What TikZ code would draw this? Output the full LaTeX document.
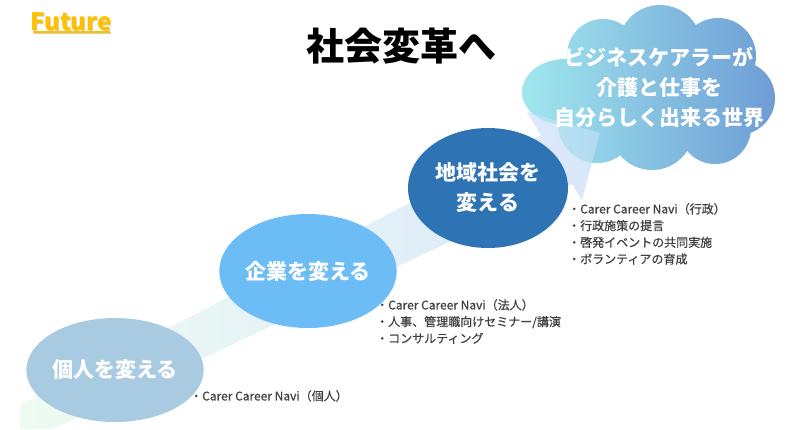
\documentclass[tikz,border=0pt]{standalone}
\usepackage{fontspec}
\setmainfont{Noto Sans CJK JP}
\newfontfamily\notefont{Noto Sans CJK JP}[FakeBold=0.7]
\usetikzlibrary{shapes.geometric}
\definecolor{bandmint}{RGB}{238,251,241}
\definecolor{bandblue}{RGB}{218,232,251}
\definecolor{cloudcyan}{RGB}{160,231,238}
\definecolor{cloudblue}{RGB}{110,157,213}
\definecolor{stageone}{RGB}{169,203,226}
\definecolor{stagetwo}{RGB}{108,189,245}
\definecolor{stagethree}{RGB}{46,116,181}
\definecolor{futureyel}{RGB}{255,192,0}
\definecolor{futureshd}{RGB}{214,208,170}
\definecolor{notegray}{RGB}{64,64,64}
\tikzset{
  stage/.style={ellipse, inner sep=0pt, minimum width=160pt, text=white, align=center,
    font=\bfseries\fontsize{21}{30}\selectfont},
  note/.style={anchor=north west, inner sep=0pt, align=left, text=notegray,
    font=\notefont\fontsize{12}{16.7}\selectfont}
}

\begin{document}
\begin{tikzpicture}[x=1pt,y=-1pt]
			%%%%% START %%%%%
			\def\picw{787}
			\def\pich{429}
			\useasboundingbox (0,0) rectangle (\picw,\pich);

			% band with arrow head
			\begin{scope}
			\clip (0,0) rectangle (\picw,\pich);
			\shade[left color=bandmint, right color=bandblue] (20,405) -- (541,135) -- (527,112) -- (600,133) -- (582,200) -- (572,184) -- (53,429) -- (20,429) -- cycle;
			\end{scope}

			% cloud
			\shade[left color=cloudcyan, right color=cloudblue] (655,92) ellipse (85 and 55) (565,92) ellipse (43 and 33) (603,55) circle (36) (660,47) circle (42) (718,56) circle (38) (738,98) circle (37) (715,128) circle (36) (652,128) circle (42) (597,124) circle (39);
			\fill[bandblue, fill opacity=0.45] (527,112) -- (600,133) -- (582,200) -- cycle;
			\node[align=center, text=white, font=\bfseries\fontsize{21}{30}\selectfont] (world) at (659,87) {ビジネスケアラーが\\介護と仕事を\\自分らしく出来る世界};

			% stages
			\node[stage, fill=stageone, minimum height=104pt] (kojin) at (115,370) {個人を変える};
			\node[stage, fill=stagetwo, minimum height=114pt] (kigyo) at (308,271) {企業を変える};
			\node[stage, fill=stagethree, minimum height=120pt] (chiiki) at (488,188) {地域社会を\\変える};

			% notes
			\node[note] (notekojin) at (190,390) {・Carer Career Navi（個人）};
			\node[note] (notekigyo) at (376,299) {・Carer Career Navi（法人）\\・人事、管理職向けセミナー/講演\\・コンサルティング};
			\node[note] (notechiiki) at (568,203) {・Carer Career Navi（行政）\\・行政施策の提言\\・啓発イベントの共同実施\\・ボランティアの育成};

			% title
			\node[font=\bfseries\fontsize{38}{40}\selectfont] (title) at (401,46) {社会変革へ};

			% future
			\node[text=futureshd, font=\bfseries\fontsize{24}{26}\selectfont] (futureshade) at (72.2,23.2) {Future};
			\draw[futureshd, line width=1.6] (34.2,33.2) -- (111.2,33.2);
			\node[text=futureyel, font=\bfseries\fontsize{24}{26}\selectfont] (future) at (71,22) {Future};
			\draw[futureyel, line width=1.6] (33,32) -- (110,32);
			%%%%% END %%%%%
\end{tikzpicture}
\end{document}
